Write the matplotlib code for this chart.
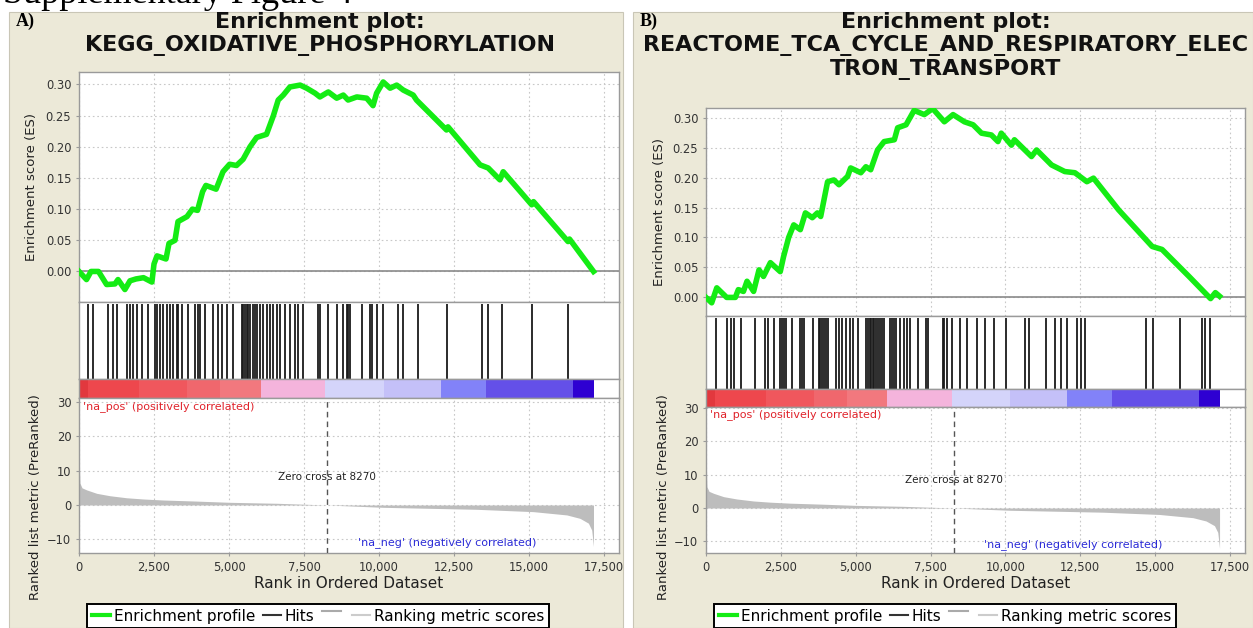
import matplotlib.pyplot as plt
from matplotlib.patches import Rectangle
from matplotlib.lines import Line2D
from matplotlib.legend_handler import HandlerLine2D
from matplotlib.ticker import FuncFormatter

# values
ZERO_CROSS = 8270

# ranked list metric (shared by both panels, same dataset)
metric_rank = [0, 30, 100, 255, 590, 1030, 1590, 2140, 2810, 3810, 5030, 6590, 8270,
               10140, 13260, 15140, 16260, 16700, 16980, 17090, 17150]
metric_val = [16, 6.4, 5.0, 4.4, 3.4, 2.7, 2.1, 1.75, 1.45, 1.17, 0.78, 0.5, 0,
              -0.68, -1.26, -1.94, -2.9, -3.9, -5.3, -7.3, -12.1]

# colour bar under the hits
cbar_edges = [0, 300, 2000, 3600, 4700, 6050, 8200, 10150, 12050, 13550, 16450, 17150]
cbar_colors = ['#e2383e', '#ee474d', '#f0575d', '#f0676d', '#f2787e', '#f4b4dc',
               '#d4d4fa', '#c4c0f8', '#8282f8', '#6450e8', '#2e00d2']

# panel A - KEGG oxidative phosphorylation
es_rank_a = [0, 250, 400, 650, 920, 1200, 1300, 1530, 1700, 1900, 2150, 2430, 2500, 2600,
             2900, 3000, 3200, 3300, 3600, 3780, 3950, 4120, 4230, 4570, 4800, 5020, 5250,
             5470, 5700, 5920, 6250, 6480, 6640, 6810, 7030, 7370, 7590, 7870, 8030, 8310,
             8590, 8810, 8970, 9260, 9590, 9800, 9920, 10140, 10370, 10590, 10810, 11140,
             11250, 12250, 12300, 13370, 13640, 14030, 14140, 15090, 15150, 16300, 16350, 17150]
es_a = [0, -0.013, 0.0, 0.0, -0.021, -0.02, -0.013, -0.029, -0.015, -0.012, -0.01, -0.017,
        0.012, 0.025, 0.02, 0.045, 0.05, 0.08, 0.088, 0.10, 0.098, 0.128, 0.138, 0.132, 0.16,
        0.172, 0.17, 0.18, 0.20, 0.215, 0.22, 0.25, 0.275, 0.283, 0.296, 0.299, 0.294, 0.286,
        0.28, 0.288, 0.278, 0.283, 0.275, 0.28, 0.278, 0.266, 0.286, 0.304, 0.294, 0.299,
        0.291, 0.283, 0.275, 0.227, 0.232, 0.171, 0.166, 0.147, 0.16, 0.107, 0.112, 0.048,
        0.052, 0.0]
hits_a = [311, 478, 978, 1144, 1256, 1589, 1700, 1811, 1922, 2089, 2311, 2533, 2589, 2700,
          2811, 2922, 3033, 3144, 3256, 3311, 3422, 3644, 3867, 3978, 4033, 4200, 4478, 4644,
          4756, 4922, 5144, 5422, 5478, 5533, 5589, 5644, 5700, 5811, 5867, 5922, 6033, 6144,
          6256, 6367, 6478, 6589, 6700, 6867, 7033, 7200, 7311, 7478, 7978, 8033, 8311, 8589,
          8811, 8922, 8978, 9033, 9422, 9700, 9756, 9922, 10144, 10644, 10811, 11311, 12256,
          13422, 13644, 14089, 15089, 16311]

# panel B - Reactome TCA cycle and respiratory electron transport
es_rank_b = [0, 190, 360, 690, 980, 1080, 1250, 1370, 1590, 1770, 1920, 2150, 2480, 2590,
             2760, 2930, 3150, 3320, 3550, 3720, 3830, 4060, 4270, 4440, 4730, 4830, 5170,
             5340, 5500, 5730, 5950, 6290, 6400, 6680, 6950, 7290, 7570, 7960, 8250, 8630,
             8920, 9200, 9530, 9750, 9860, 10200, 10300, 10870, 11040, 11540, 11980, 12320,
             12720, 12940, 13780, 14900, 15230, 16130, 16850, 17010, 17150]
es_b = [0, -0.009, 0.016, 0.0, 0.0, 0.013, 0.01, 0.027, 0.01, 0.046, 0.035, 0.058, 0.043,
        0.068, 0.10, 0.121, 0.113, 0.141, 0.133, 0.141, 0.135, 0.193, 0.196, 0.188, 0.202,
        0.216, 0.208, 0.218, 0.213, 0.246, 0.26, 0.263, 0.283, 0.288, 0.312, 0.305, 0.315,
        0.293, 0.305, 0.293, 0.288, 0.274, 0.271, 0.26, 0.274, 0.254, 0.263, 0.235, 0.246,
        0.221, 0.21, 0.208, 0.193, 0.199, 0.146, 0.085, 0.08, 0.035, -0.002, 0.008, 0.002]
hits_b = [319, 691, 824, 930, 1156, 1621, 1954, 2087, 2286, 2485, 2552, 2618, 2685, 2857,
          3123, 3190, 3283, 3588, 3788, 3814, 3881, 3947, 4014, 4080, 4346, 4452, 4545, 4678,
          4811, 4904, 5077, 5343, 5409, 5476, 5515, 5569, 5608, 5675, 5741, 5808, 5874, 5941,
          6140, 6206, 6273, 6339, 6472, 6605, 6711, 6805, 7070, 7336, 7403, 7908, 7961, 8040,
          8200, 8492, 8705, 9064, 9330, 9622, 10034, 10659, 10792, 11363, 11655, 11855, 12054,
          12386, 12519, 12652, 14685, 14911, 15842, 16572, 16679, 16839]

es_ticks = [0.0, 0.05, 0.10, 0.15, 0.20, 0.25, 0.30]
rank_ticks = [0, 2500, 5000, 7500, 10000, 12500, 15000, 17500]
metric_ticks = [-10, 0, 10, 20, 30]

W, H = 1253, 628
BEIGE = '#ece9d8'
GREEN = '#14ec14'
GRID = '#c8c8c8'
SPINE = '#9a9a9a'
FONT = 'DejaVu Sans'

fig = plt.figure(figsize=(W / 100, H / 100), dpi=100)
fig.patch.set_facecolor('white')


class RaisedLine(HandlerLine2D):
    # the stray grey dash drawn high up after "Hits" in the original legend
    def create_artists(self, legend, orig_handle, xdescent, ydescent, width, height,
                       fontsize, trans):
        arts = super().create_artists(legend, orig_handle, xdescent, ydescent, width,
                                      height, fontsize, trans)
        for a in arts:
            a.set_ydata([y + height * 0.42 for y in a.get_ydata()])
        return arts


def rect(l, t, r, b):
    # pixel box (from top-left) -> figure fraction
    return [l / W, 1 - b / H, (r - l) / W, (b - t) / H]


def style(ax):
    for s in ax.spines.values():
        s.set_color(SPINE)
        s.set_linewidth(1)
    ax.tick_params(labelcolor='#333333', color=SPINE, labelsize=8.3, length=2, width=0.8)


def panel(x0, x1, letter, title_lines, cx, L, R, es_top, hit_top, bar_top, rk_top, rk_bot,
          es_rank, es_vals, hits, es_ylim, rk_ylim, lab_x, legend_x):
    fig.add_artist(Rectangle((x0 / W, 0), (x1 - x0) / W, (H - 12) / H,
                             transform=fig.transFigure, fc=BEIGE, ec='#c9c6b6', lw=0.8, zorder=-5))
    fig.text((x0 + 7) / W, 1 - 21 / H, letter, family='Liberation Serif', weight='bold',
             size=13, va='center', ha='left')
    for i, line in enumerate(title_lines):
        fig.text(cx / W, 1 - (22 + 24 * i) / H, line, family=FONT, weight='bold', size=16,
                 va='center', ha='center', color='#111111')

    # enrichment score
    ax = fig.add_axes(rect(L, es_top, R, hit_top))
    ax.plot(es_rank, es_vals, color=GREEN, lw=4, solid_joinstyle='round', zorder=3)
    ax.axhline(0, color='#8a8a8a', lw=1.2, zorder=2)
    ax.set_xlim(0, 18000)
    ax.set_ylim(*es_ylim)
    ax.set_yticks(es_ticks)
    ax.yaxis.set_major_formatter(FuncFormatter(lambda v, p: f'{v:.2f}'))
    ax.set_xticks(rank_ticks)
    ax.grid(True, color=GRID, lw=0.8, ls=(0, (1.5, 2.5)))
    style(ax)
    ax.tick_params(axis='x', length=0, labelbottom=False)

    # hits
    axh = fig.add_axes(rect(L, hit_top, R, bar_top))
    axh.vlines(hits, 0, 0.97, color='#1a1a1a', lw=1.3)
    axh.set_xlim(0, 18000)
    axh.set_ylim(0, 1)
    axh.set_xticks([])
    axh.set_yticks([])
    style(axh)

    # colour bar
    axc = fig.add_axes(rect(L, bar_top, R, rk_top))
    for lo, hi, c in zip(cbar_edges[:-1], cbar_edges[1:], cbar_colors):
        axc.axvspan(lo, hi, color=c, lw=0)
    axc.set_xlim(0, 18000)
    axc.set_xticks([])
    axc.set_yticks([])
    style(axc)

    # ranked list metric
    axr = fig.add_axes(rect(L, rk_top, R, rk_bot))
    axr.fill_between(metric_rank, metric_val, 0, color='#bdbdbd', lw=0, zorder=2)
    axr.axvline(ZERO_CROSS, color='#555555', lw=1, ls=(0, (4, 3)), zorder=3)
    axr.text(ZERO_CROSS, 8.3, 'Zero cross at 8270', ha='center', va='center', size=7.5,
             color='#222222', zorder=4)
    axr.text(0.008, 0.948, "'na_pos' (positively correlated)", transform=axr.transAxes,
             ha='left', va='center', size=8, color='#e0232b')
    axr.text(15250, -11, "'na_neg' (negatively correlated)", ha='right', va='center',
             size=8, color='#2b2bd6')
    axr.set_xlim(0, 18000)
    axr.set_ylim(*rk_ylim)
    axr.set_yticks(metric_ticks)
    axr.set_xticks(rank_ticks)
    axr.xaxis.set_major_formatter(FuncFormatter(lambda v, p: f'{int(v):,}'))
    axr.grid(True, color=GRID, lw=0.8, ls=(0, (1.5, 2.5)))
    style(axr)
    axr.set_xlabel('Rank in Ordered Dataset', size=11, color='#222222', labelpad=2)

    fig.text(lab_x / W, 1 - (es_top + hit_top) / 2 / H, 'Enrichment score (ES)', rotation=90,
             ha='center', va='center', size=9.5, color='#222222')
    fig.text((lab_x + 4) / W, 1 - 497 / H, 'Ranked list metric (PreRanked)', rotation=90,
             ha='center', va='center', size=9.5, color='#222222')

    handles = [Line2D([], [], color=GREEN, lw=3),
               Line2D([], [], color='#333333', lw=1.5),
               Line2D([], [], color='#aaaaaa', lw=1.5),
               Line2D([], [], color='#cccccc', lw=1.5)]
    leg = fig.legend(handles, ['Enrichment profile', 'Hits', '', 'Ranking metric scores'],
                     handler_map={handles[2]: RaisedLine()},
                     loc='upper left', bbox_to_anchor=(legend_x / W, 1 - 604 / H), ncol=4,
                     fontsize=11, frameon=True, fancybox=False, edgecolor='black',
                     framealpha=1, borderpad=0.3, handlelength=1.2, handletextpad=0.25,
                     columnspacing=0.5, borderaxespad=0)
    leg.get_frame().set_linewidth(1.4)


# figure caption, mostly cut off by the top edge; the panels sit over its descenders
fig.text(3 / W, 1 - 3 / H, 'Supplementary Figure 4', family='Liberation Serif', size=26,
         va='baseline', ha='left', zorder=-10)

panel(9, 623, 'A)', ['Enrichment plot:', 'KEGG_OXIDATIVE_PHOSPHORYLATION'], 320,
      79, 619, 72, 302, 379, 398, 553, es_rank_a, es_a, hits_a,
      (-0.049, 0.32), (-14, 31.2), 32, 87)

panel(633, W, 'B)', ['Enrichment plot:', 'REACTOME_TCA_CYCLE_AND_RESPIRATORY_ELEC',
                     'TRON_TRANSPORT'], 946,
      706, 1245, 108, 316, 389, 407, 553, es_rank_b, es_b, hits_b,
      (-0.031, 0.316), (-13.5, 30.3), 660, 714)

fig.savefig('out.png', dpi=100)
